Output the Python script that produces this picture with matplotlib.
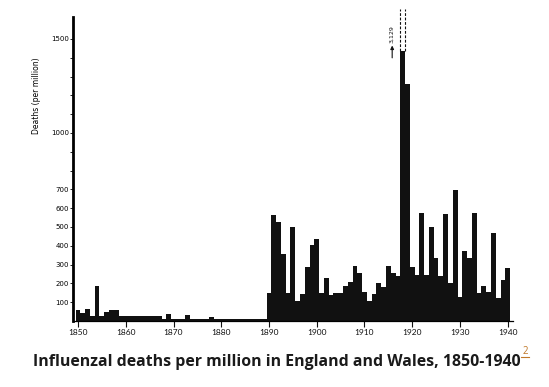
import matplotlib
matplotlib.use("Agg")
import matplotlib.pyplot as plt
from matplotlib.lines import Line2D

# Influenzal deaths per million, England and Wales
years = list(range(1850, 1941))
deaths = [
    # 1850-1889
    58, 40, 62, 28, 185, 28, 48, 58, 58, 28,
    28, 28, 28, 28, 28, 28, 28, 28, 10, 36,
    10, 10, 10, 32, 10, 10, 10, 10, 23, 10,
    10, 10, 10, 10, 10, 10, 10, 10, 10, 10,
    # 1890-1940
    150, 564, 528, 356, 147, 498, 108, 144, 289, 404,
    434, 147, 230, 138, 150, 150, 188, 206, 294, 253,
    152, 106, 144, 200, 183, 294, 253, 239, 3129, 1262,
    286, 245, 576, 245, 502, 333, 239, 571, 200, 697,
    129, 374, 337, 573, 150, 188, 152, 466, 124, 218,
    284,
]
ytick_vals = [100, 200, 300, 400, 500, 600, 700, 1000, 1500]
yminor_vals = [800, 900, 1100, 1200, 1300, 1400]
xtick_vals = list(range(1850, 1941, 10))

# the 1918 bar runs off the top of the chart
off_year = 1918
off_cap = 1434
shown = [min(v, off_cap) if y == off_year else v for y, v in zip(years, deaths)]

fig = plt.figure(figsize=(5.49, 3.87), dpi=100)
ax = fig.add_axes([73 / 549, 66 / 387, 439.5 / 549, 304 / 387])

ax.bar(years, shown, width=1.0, color="#111111", linewidth=0)

ax.set_xlim(1848.95, 1941)
ax.set_ylim(0, 1617)

for s in ["top", "right"]:
    ax.spines[s].set_visible(False)
ax.spines["left"].set_linewidth(2.0)
ax.spines["bottom"].set_linewidth(0.9)

ax.set_xticks(xtick_vals)
ax.set_xticklabels([str(t) for t in xtick_vals], fontsize=6, family="Lato")
ax.set_yticks(ytick_vals)
ax.set_yticklabels([str(t) for t in ytick_vals], fontsize=5, family="DejaVu Sans Condensed")
ax.set_yticks(yminor_vals, minor=True)
ax.tick_params(axis="x", length=4, width=0.8, pad=1.5, colors="#111111")
ax.tick_params(axis="y", which="major", length=2, width=0.6, pad=1)
ax.tick_params(axis="y", which="minor", length=2, width=0.6)

ax.set_ylabel("Deaths (per million)", fontsize=5.5, family="DejaVu Sans")
ax.yaxis.set_label_coords(-0.072, 0.74)

# dashed continuation of the 1918 bar + off-scale value
for xe in [off_year - 0.5, off_year + 0.5]:
    ax.plot([xe, xe], [off_cap, 1660], ls=(0, (2.5, 1.5)), lw=0.8,
            color="#111111", clip_on=False)
ax.annotate("", xy=(1915.8, 1480), xytext=(1915.8, 1385),
            arrowprops=dict(arrowstyle="-|>", lw=0.8, color="#111111",
                            mutation_scale=5))
ax.text(1915.8, 1527, "3,129", rotation=90, fontsize=4.5, ha="center",
        va="center", color="#111111")

# caption under the chart
fig.text(0.504, 0.064, "Influenzal deaths per million in England and Wales, 1850-1940",
         fontsize=11.4, fontweight="bold", family="Open Sans", ha="center", va="center",
         color="#1a1a1a")
fig.text(525 / 549, 1 - 351 / 387, "2", fontsize=7, color="#c0782a",
         ha="center", va="center", family="Open Sans")
fig.add_artist(Line2D([521 / 549, 529 / 549], [1 - 357 / 387, 1 - 357 / 387],
                      color="#c0782a", lw=0.8))

fig.savefig("out.png", dpi=100)
